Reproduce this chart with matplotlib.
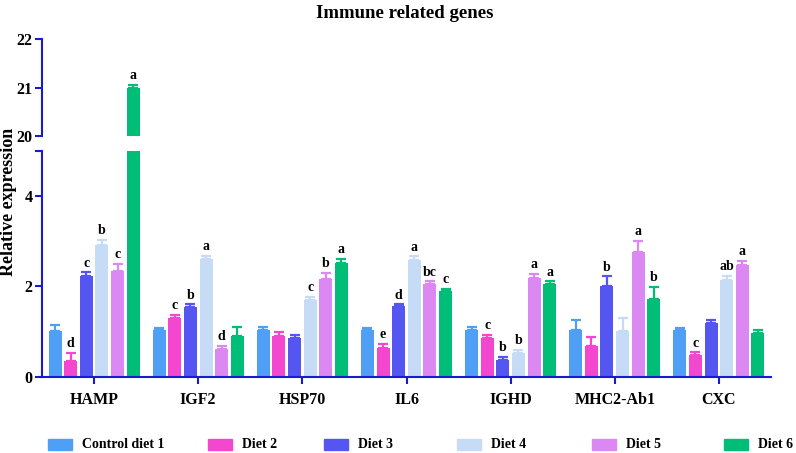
import numpy as np
import matplotlib
matplotlib.use("Agg")
import matplotlib.pyplot as plt
from matplotlib.patches import Rectangle

plt.rcParams['font.family'] = ['Liberation Serif', 'DejaVu Serif']
plt.rcParams['font.weight'] = 'bold'

genes = ['HAMP', 'IGF2', 'HSP70', 'IL6', 'IGHD', 'MHC2-Ab1', 'CXC']
diets = ['Control diet 1', 'Diet 2', 'Diet 3', 'Diet 4', 'Diet 5', 'Diet 6']
colors = ['#4f9ff7', '#f447cf', '#5555f2', '#c6dcf6', '#dc88f2', '#00be78']

# mean relative expression per diet, one value per gene
control = [1.02, 1.03, 1.03, 1.03, 1.03, 1.03, 1.03]
diet2 = [0.35, 1.30, 0.90, 0.64, 0.85, 0.67, 0.48]
diet3 = [2.22, 1.55, 0.85, 1.56, 0.37, 2.00, 1.18]
diet4 = [2.91, 2.61, 1.69, 2.59, 0.52, 1.01, 2.15]
diet5 = [2.33, 0.61, 2.17, 2.04, 2.19, 2.76, 2.47]
diet6 = [21.0, 0.90, 2.52, 1.90, 2.06, 1.71, 0.97]

# upper error (SE)
control_err = [0.13, 0.05, 0.07, 0.05, 0.06, 0.22, 0.05]
diet2_err = [0.17, 0.06, 0.08, 0.08, 0.07, 0.21, 0.06]
diet3_err = [0.09, 0.05, 0.07, 0.04, 0.07, 0.22, 0.07]
diet4_err = [0.11, 0.07, 0.08, 0.07, 0.08, 0.29, 0.08]
diet5_err = [0.17, 0.08, 0.13, 0.07, 0.08, 0.24, 0.09]
diet6_err = [0.05, 0.20, 0.08, 0.04, 0.05, 0.27, 0.07]

# significance letters
control_sig = ['', '', '', '', '', '', '']
diet2_sig = ['d', 'c', '', 'e', 'c', '', 'c']
diet3_sig = ['c', 'b', '', 'd', 'b', 'b', '']
diet4_sig = ['b', 'a', 'c', 'a', 'b', '', 'ab']
diet5_sig = ['c', 'd', 'b', 'bc', 'a', 'a', 'a']
diet6_sig = ['a', '', 'a', 'c', 'a', 'b', '']

series = [control, diet2, diet3, diet4, diet5, diet6]
errors = [control_err, diet2_err, diet3_err, diet4_err, diet5_err, diet6_err]
sigs = [control_sig, diet2_sig, diet3_sig, diet4_sig, diet5_sig, diet6_sig]

axis_blue = '#1a1ad0'
W, H = 796, 453
fig = plt.figure(figsize=(W / 100, H / 100), dpi=100)

left, right = 42 / W, 771 / W
ax_top = fig.add_axes([left, 1 - 136 / H, right - left, (136 - 39.3) / H])
ax_bot = fig.add_axes([left, 1 - 376.7 / H, right - left, (376.7 - 150.7) / H])

x = np.arange(len(genes))
step = 0.15
width = 0.125

for ax, lo, hi in [(ax_top, 20, 22), (ax_bot, 0, 5)]:
    for i in range(6):
        xs = x + (i - 2.5) * step
        vals = np.array(series[i])
        errs = np.array(errors[i])
        ax.bar(xs, vals, width=width, color=colors[i], zorder=2)
        ax.errorbar(xs, vals, yerr=[np.zeros_like(errs), errs], fmt='none',
                    ecolor=colors[i], elinewidth=1.6, capsize=3.3, capthick=1.6, zorder=2)
        for xx, v, e, s in zip(xs, vals, errs, sigs[i]):
            if s and lo <= v + e <= hi:
                ax.annotate(s, (xx, v + e), xytext=(0, 2), textcoords='offset points',
                            ha='center', va='bottom', fontsize=10, fontweight='bold')
    ax.set_xlim(-0.5, 6.5)
    ax.set_ylim(lo, hi)
    ax.spines['top'].set_visible(False)
    ax.spines['right'].set_visible(False)
    ax.spines['left'].set_color(axis_blue)
    ax.spines['left'].set_linewidth(1.5)
    ax.tick_params(axis='y', colors=axis_blue, width=1.5, length=5, labelsize=11.5,
                   labelcolor='black', pad=2)
    ax.set_facecolor('none')

ax_top.spines['bottom'].set_visible(False)
ax_top.set_xticks([])
ax_top.set_yticks([20, 21, 22])

ax_bot.set_yticks([0, 2, 4, 5])
ax_bot.set_yticklabels(['0', '2', '4', ''])
ax_bot.spines['bottom'].set_color(axis_blue)
ax_bot.spines['bottom'].set_linewidth(1.5)
ax_bot.set_xticks(x)
ax_bot.set_xticklabels(genes, fontsize=11.5, fontweight='bold')
ax_bot.tick_params(axis='x', colors=axis_blue, width=1.5, length=5, labelcolor='black', pad=6)

for ax in (ax_top, ax_bot):
    for lab in ax.get_yticklabels():
        lab.set_fontweight('bold')

fig.text(405 / W, 1 - 13 / H, 'Immune related genes', ha='center', va='center',
         fontsize=13.5, fontweight='bold')
fig.text(9 / W, 1 - 202 / H, 'Relative expression', rotation=90, ha='center', va='center',
         fontsize=13, fontweight='bold')

# legend drawn by hand to match uneven spacing
patch_x = [48, 208, 324, 457, 592, 724]
for px, name, c in zip(patch_x, diets, colors):
    fig.patches.append(Rectangle((px / W, 1 - 450 / H), 24 / W, 11 / H,
                                 transform=fig.transFigure, color=c))
    fig.text((px + 34) / W, 1 - 445 / H, name, ha='left', va='center',
             fontsize=10, fontweight='bold')

fig.savefig('out.png', dpi=100)
